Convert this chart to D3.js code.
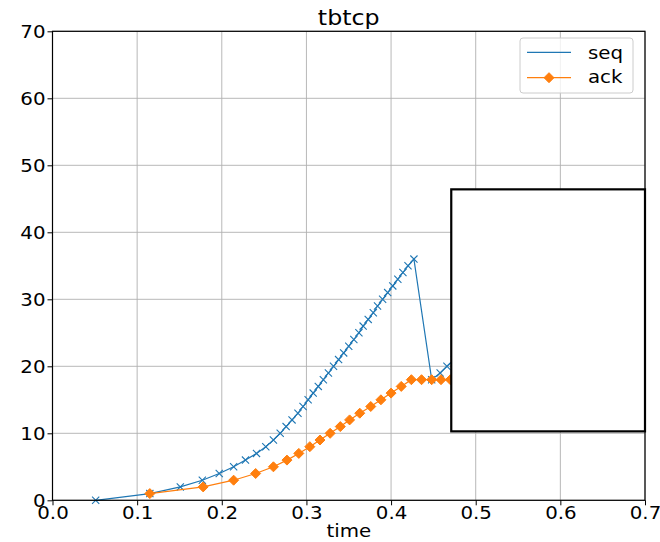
<!DOCTYPE html>
<html>
<head>
<meta charset="utf-8">
<script src="https://cdn.jsdelivr.net/npm/d3@7"></script>
<style>
  html, body { margin: 0; padding: 0; background: #fff; }
  svg { display: block; font-family: "DejaVu Sans", sans-serif; }
</style>
</head>
<body>
<svg id="chart" width="660" height="542"></svg>
<script>
// Sequence numbers sent (seq) and acknowledged (ack) over time
const seqTime = [0.051, 0.115, 0.151, 0.177, 0.197, 0.214, 0.228, 0.241, 0.252, 0.261,
                 0.269, 0.276, 0.283, 0.290, 0.296, 0.302, 0.308, 0.314, 0.320, 0.326,
                 0.332, 0.338, 0.344, 0.350, 0.356, 0.362, 0.367, 0.373, 0.379, 0.384,
                 0.390, 0.396, 0.402, 0.408, 0.414, 0.420, 0.427,
                 0.448, 0.458, 0.466, 0.475];
const seqValue = [0, 1, 2, 3, 4, 5, 6, 7, 8, 9,
                  10, 11, 12, 13, 14, 15, 16, 17, 18, 19,
                  20, 21, 22, 23, 24, 25, 26, 27, 28, 29,
                  30, 31, 32, 33, 34, 35, 36,
                  18, 19, 20, 21];

const ackTime = [0.115, 0.178, 0.214, 0.240, 0.261, 0.277, 0.291, 0.304, 0.316, 0.328,
                 0.340, 0.351, 0.363, 0.376, 0.388, 0.400, 0.412, 0.424, 0.436, 0.448,
                 0.459, 0.470];
const ackValue = [1, 2, 3, 4, 5, 6, 7, 8, 9, 10,
                  11, 12, 13, 14, 15, 16, 17, 18, 18, 18,
                  18, 18];

const xTicks = [0.0, 0.1, 0.2, 0.3, 0.4, 0.5, 0.6, 0.7];
const yTicks = [0, 10, 20, 30, 40, 50, 60, 70];
const seriesNames = ["seq", "ack"];
const titleText = "tbtcp";
const xLabel = "time";

// Layout
const plot = { left: 52.5, right: 645, top: 31.3, bottom: 500.3 };
const colors = { seq: "#1f77b4", ack: "#ff7f0e" };
const stretch = 1.1;           // horizontal text stretch
const tickFont = 18;

const svg = d3.select("#chart");

const x = d3.scaleLinear().domain([0, 0.7]).range([plot.left, plot.right]);
const y = d3.scaleLinear().domain([0, 70]).range([plot.bottom, plot.top]);

// Grid
const grid = svg.append("g").attr("stroke", "#b0b0b0").attr("stroke-width", 0.9);
grid.selectAll("line.vx").data(xTicks).join("line")
  .attr("x1", d => x(d)).attr("x2", d => x(d))
  .attr("y1", plot.top).attr("y2", plot.bottom);
grid.selectAll("line.hy").data(yTicks).join("line")
  .attr("y1", d => y(d)).attr("y2", d => y(d))
  .attr("x1", plot.left).attr("x2", plot.right);

// Series
const seqData = seqTime.map((t, i) => ({ t, v: seqValue[i] }));
const ackData = ackTime.map((t, i) => ({ t, v: ackValue[i] }));
const line = d3.line().x(d => x(d.t)).y(d => y(d.v));

const clipId = "plotClip";
svg.append("clipPath").attr("id", clipId).append("rect")
  .attr("x", plot.left).attr("y", plot.top)
  .attr("width", plot.right - plot.left).attr("height", plot.bottom - plot.top + 6);

const series = svg.append("g").attr("clip-path", `url(#${clipId})`);

series.append("path").datum(seqData)
  .attr("fill", "none").attr("stroke", colors.seq).attr("stroke-width", 1.2)
  .attr("d", line);
const xm = 3.6;
series.append("g").selectAll("path").data(seqData).join("path")
  .attr("transform", d => `translate(${x(d.t)},${y(d.v)})`)
  .attr("d", `M${-xm},${-xm}L${xm},${xm}M${-xm},${xm}L${xm},${-xm}`)
  .attr("stroke", colors.seq).attr("stroke-width", 1.1).attr("fill", "none");

series.append("path").datum(ackData)
  .attr("fill", "none").attr("stroke", colors.ack).attr("stroke-width", 1.2)
  .attr("d", line);
const dm = 5;
const diamond = `M0,${-dm}L${dm},0L0,${dm}L${-dm},0Z`;
series.append("g").selectAll("path").data(ackData).join("path")
  .attr("transform", d => `translate(${x(d.t)},${y(d.v)})`)
  .attr("d", diamond)
  .attr("fill", colors.ack).attr("stroke", colors.ack).attr("stroke-width", 1);

// Empty inset panel over the upper right of the plot (axes fractions)
const inset = { left: 0.673, right: 1.0, bottom: 0.147, top: 0.663 };
const pw = plot.right - plot.left, ph = plot.bottom - plot.top;
svg.append("rect")
  .attr("x", plot.left + inset.left * pw)
  .attr("y", plot.bottom - inset.top * ph)
  .attr("width", (inset.right - inset.left) * pw)
  .attr("height", (inset.top - inset.bottom) * ph)
  .attr("fill", "#fff").attr("stroke", "#000").attr("stroke-width", 2.2);

// Axes
const xAxis = d3.axisBottom(x).tickValues(xTicks).tickFormat(d3.format(".1f"))
  .tickSize(5).tickSizeOuter(0);
const yAxis = d3.axisLeft(y).tickValues(yTicks).tickFormat(d3.format("d"))
  .tickSize(5).tickSizeOuter(0);

const gx = svg.append("g").attr("transform", `translate(0,${plot.bottom})`).call(xAxis);
const gy = svg.append("g").attr("transform", `translate(${plot.left},0)`).call(yAxis);
[gx, gy].forEach(g => {
  g.select(".domain").remove();
  g.selectAll(".tick line").attr("stroke", "#000").attr("stroke-width", 1);
  g.selectAll(".tick text")
    .attr("font-family", "DejaVu Sans").attr("font-size", tickFont).attr("fill", "#000");
});
gx.selectAll(".tick text").attr("y", 18.7).attr("dy", 0)
  .attr("transform", `scale(${stretch},1)`);
gy.selectAll(".tick text").attr("x", -7 / stretch).attr("dy", "0.36em")
  .attr("transform", `scale(${stretch},1)`);

// Spines
svg.append("rect")
  .attr("x", plot.left).attr("y", plot.top).attr("width", pw).attr("height", ph)
  .attr("fill", "none").attr("stroke", "#000").attr("stroke-width", 1.2);

// Stretched text helper
function label(txt, cx, by, size, anchor) {
  svg.append("text")
    .attr("transform", `translate(${cx},${by}) scale(${stretch},1)`)
    .attr("text-anchor", anchor || "middle")
    .attr("font-family", "DejaVu Sans").attr("font-size", size).attr("fill", "#000")
    .text(txt);
}
label(titleText, (plot.left + plot.right) / 2, 25, 21.6);
label(xLabel, (plot.left + plot.right) / 2, 537, tickFont);

// Legend
const lg = svg.append("g");
lg.append("rect").attr("x", 520).attr("y", 38).attr("width", 113).attr("height", 55)
  .attr("rx", 3).attr("fill", "#fff").attr("fill-opacity", 0.8)
  .attr("stroke", "#cccccc").attr("stroke-width", 1);
const rows = [
  { name: seriesNames[0], color: colors.seq, ly: 52.3, ty: 58.8, marker: false },
  { name: seriesNames[1], color: colors.ack, ly: 77.7, ty: 83.4, marker: true }
];
rows.forEach(r => {
  lg.append("line").attr("x1", 527).attr("x2", 571).attr("y1", r.ly).attr("y2", r.ly)
    .attr("stroke", r.color).attr("stroke-width", 1.2);
  if (r.marker) {
    lg.append("path").attr("transform", `translate(549,${r.ly})`).attr("d", diamond)
      .attr("fill", r.color).attr("stroke", r.color);
  }
  lg.append("text")
    .attr("transform", `translate(588,${r.ty}) scale(${stretch},1)`)
    .attr("font-family", "DejaVu Sans").attr("font-size", tickFont).attr("fill", "#000")
    .text(r.name);
});
</script>
</body>
</html>
